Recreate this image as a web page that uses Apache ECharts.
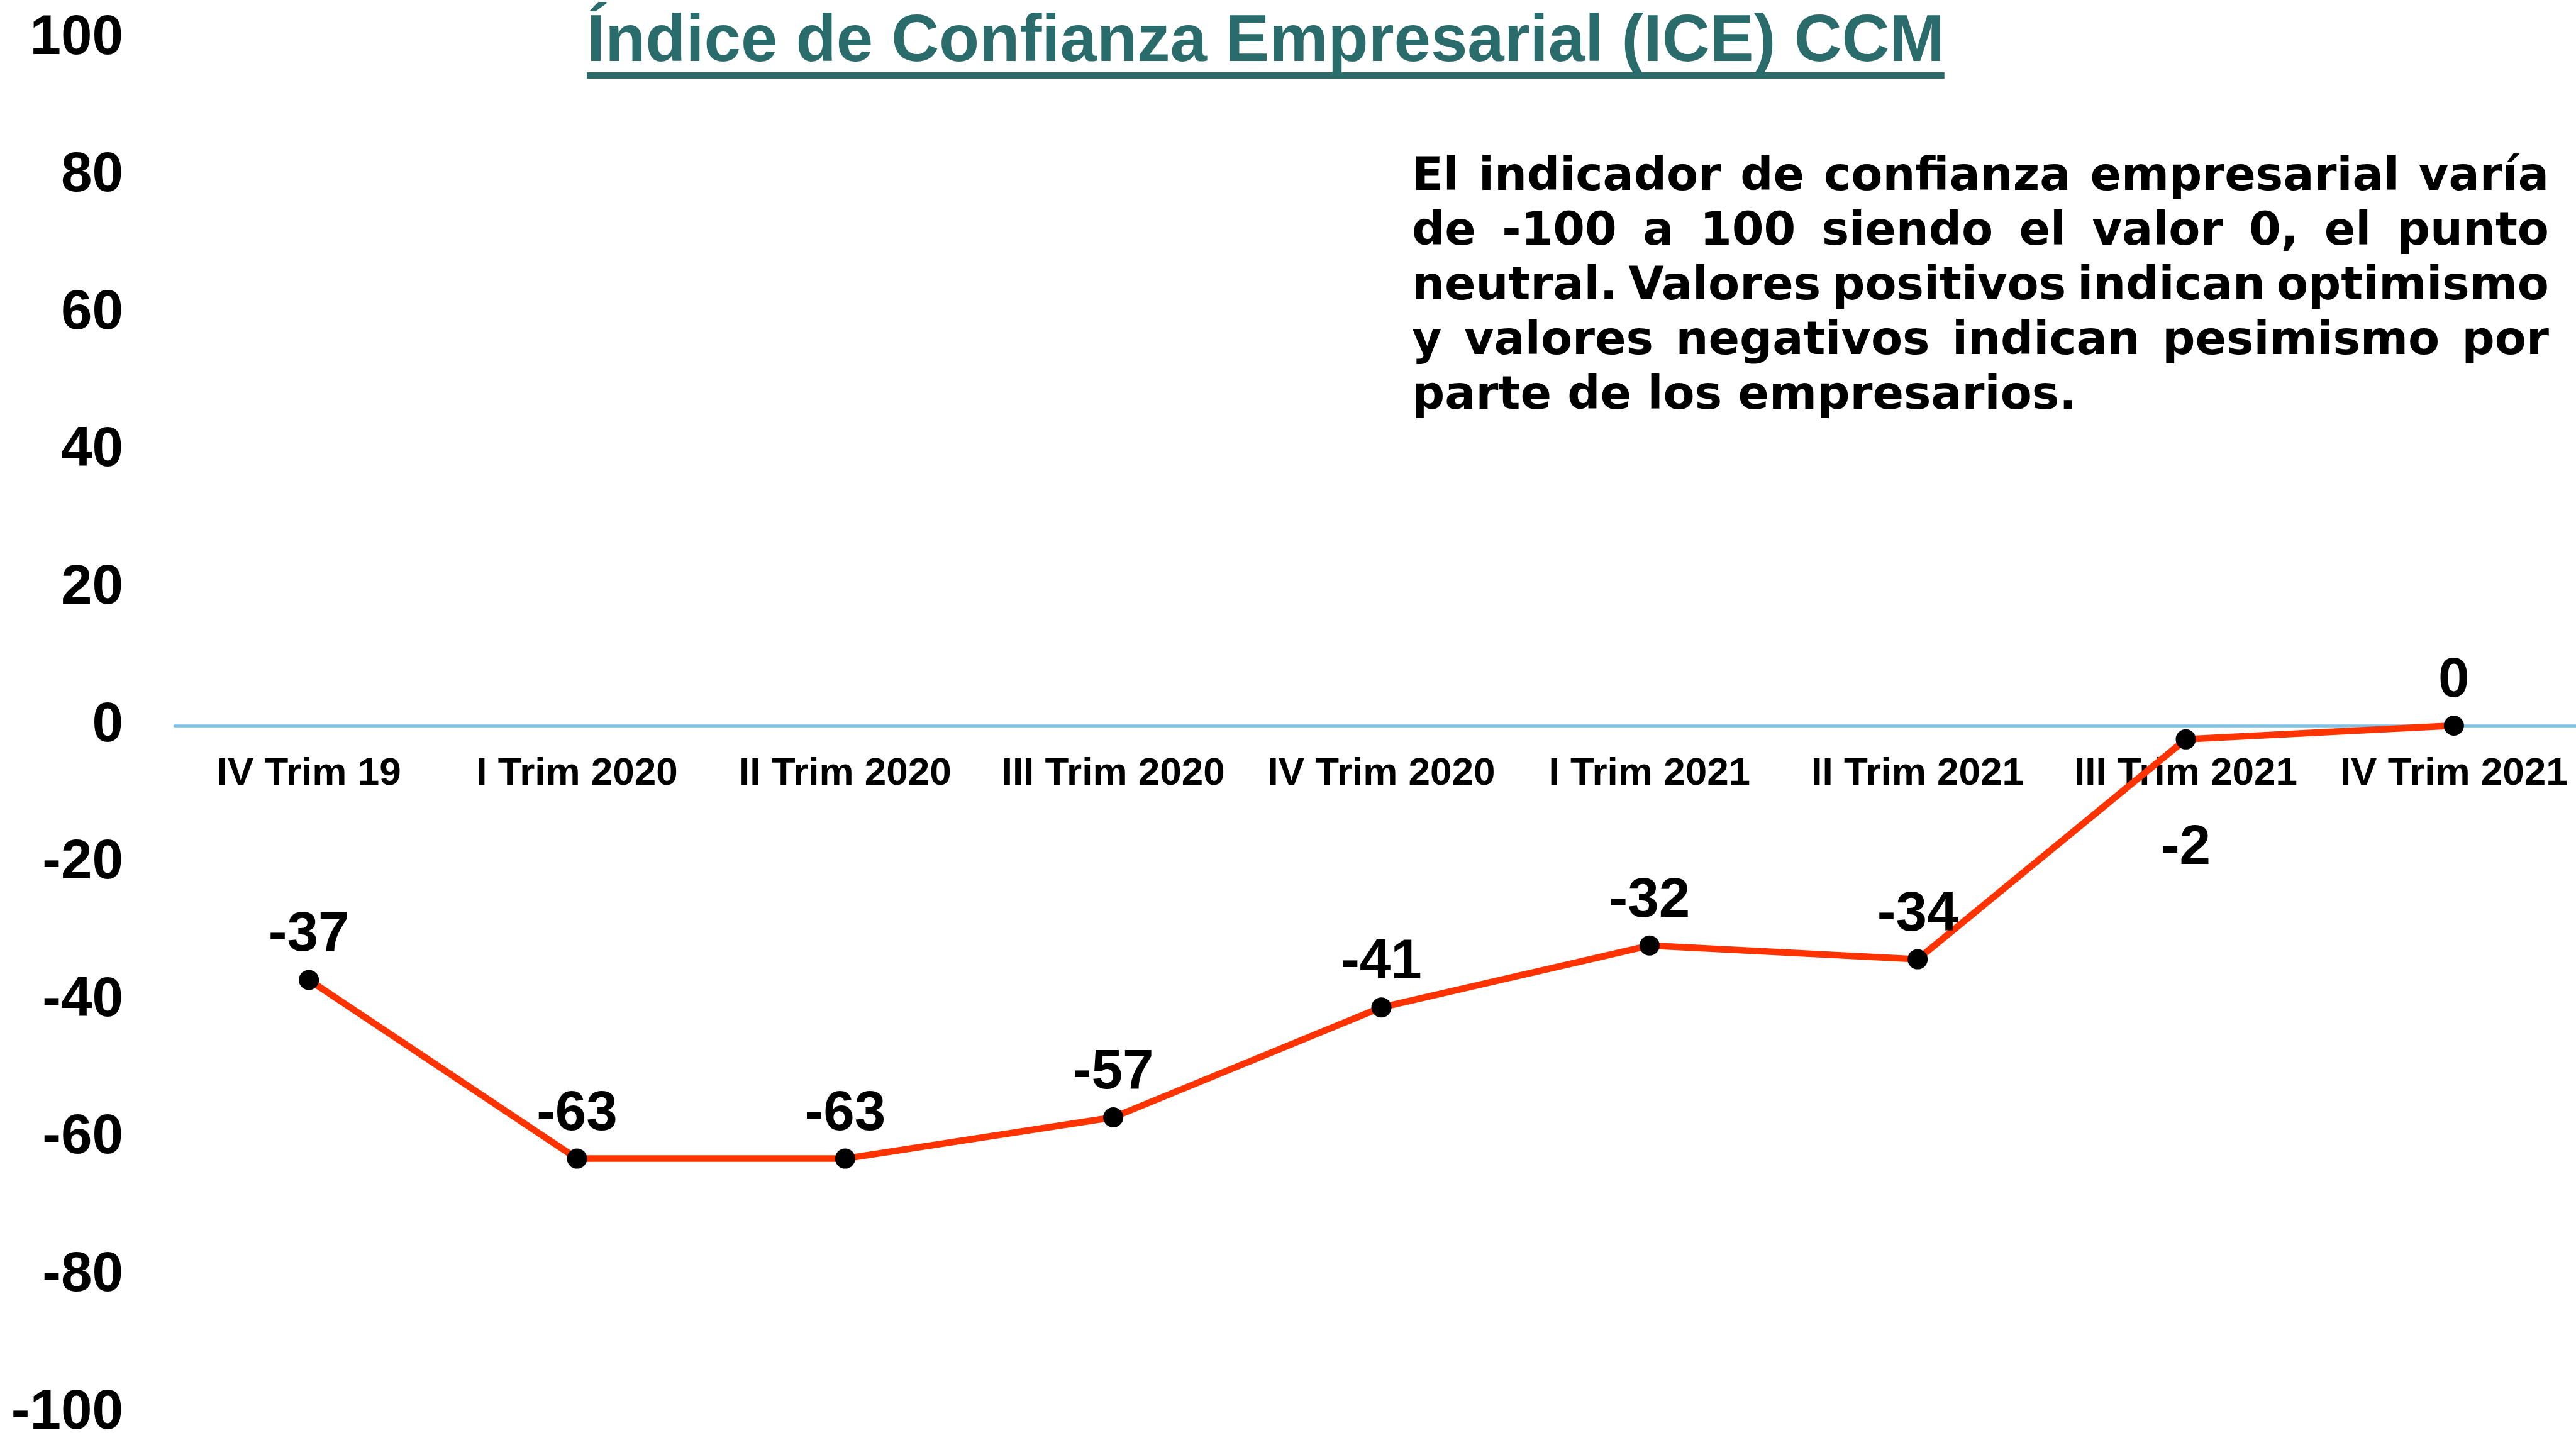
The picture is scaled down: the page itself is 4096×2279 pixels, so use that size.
<!DOCTYPE html>
<html>
<head>
<meta charset="utf-8">
<script src="https://cdn.jsdelivr.net/npm/echarts@6/dist/echarts.min.js"></script>
<style>
  html, body { margin: 0; padding: 0; background: #ffffff; overflow: hidden; }
  #chart { width: 4096px; height: 2279px; }
</style>
</head>
<body>
<div id="chart"></div>
<script>
// Quarters on the horizontal axis
const categories = [
  'IV Trim 19', 'I Trim 2020', 'II Trim 2020', 'III Trim 2020', 'IV Trim 2020',
  'I Trim 2021', 'II Trim 2021', 'III Trim 2021', 'IV Trim 2021'
];
// Business confidence index per quarter
const iceValues = [-37, -63, -63, -57, -41, -32, -34, -2, 0];
// Quarters whose value label sits under the marker instead of above it
const labelBelow = ['III Trim 2021'];
// Value axis range and step
const yMin = -100;
const yMax = 100;
const yStep = 20;

const titleText = 'Índice de Confianza Empresarial (ICE) CCM';
const noteLines = [
  'El indicador de confianza empresarial varía',
  'de -100 a 100 siendo el valor 0, el punto',
  'neutral. Valores positivos indican optimismo',
  'y valores negativos indican pesimismo por',
  'parte de los empresarios.'
];

const LABEL_FONT = '"Liberation Sans", Arial, Helvetica, sans-serif';
const NOTE_FONT = '"DejaVu Sans", Verdana, sans-serif';

const chart = echarts.init(document.getElementById('chart'), null, { renderer: 'canvas' });

// text measuring helper
const measureCtx = document.createElement('canvas').getContext('2d');
function textWidth(str, font) {
  measureCtx.font = font;
  return measureCtx.measureText(str).width;
}

// plot area
const gridTop = 61;
const gridBottom = 32;
const gridHeight = 2279 - gridTop - gridBottom;
// the category axis sits on the zero line of the value axis
const zeroOffset = -gridHeight * (0 - yMin) / (yMax - yMin);

// ---- title with underline ----
const titleSize = 105;
const titleLeft = 933;
const titleBaseline = 104;
const titleColor = '#2A6C6C';
const titleFont = `bold ${titleSize}px ${LABEL_FONT}`;
const titleWidth = textWidth(titleText, titleFont);

const graphics = [
  {
    type: 'text',
    x: titleLeft,
    y: titleBaseline - 0.347 * titleSize,
    style: {
      text: titleText,
      font: titleFont,
      fill: titleColor,
      align: 'left',
      verticalAlign: 'middle'
    }
  },
  {
    type: 'rect',
    shape: { x: titleLeft, y: 115, width: titleWidth, height: 10 },
    style: { fill: titleColor }
  }
];

// ---- justified explanatory note ----
const noteSize = 73;
const noteLead = 87;
const noteLeft = 2245;
const noteRight = 4053;
const noteFirstBaseline = 308;
const noteFont = `bold ${noteSize}px ${NOTE_FONT}`;

noteLines.forEach((line, i) => {
  const words = line.split(' ');
  const widths = words.map(w => textWidth(w, noteFont));
  const total = widths.reduce((a, b) => a + b, 0);
  const isLast = i === noteLines.length - 1;
  const gap = isLast || words.length < 2
    ? textWidth(' ', noteFont)
    : (noteRight - noteLeft - total) / (words.length - 1);
  const y = noteFirstBaseline + i * noteLead - 0.347 * noteSize;
  let x = noteLeft;
  words.forEach((w, j) => {
    graphics.push({
      type: 'text',
      x: x,
      y: y,
      style: { text: w, font: noteFont, fill: '#000000', align: 'left', verticalAlign: 'middle' }
    });
    x += widths[j] + gap;
  });
});

// ---- series data: some labels go below their marker ----
const seriesData = iceValues.map((v, i) =>
  labelBelow.includes(categories[i])
    ? { value: v, label: { position: 'bottom', distance: 113 } }
    : v
);

const option = {
  animation: false,
  backgroundColor: '#ffffff',
  grid: {
    left: 278, right: -19, top: gridTop, bottom: gridBottom,
    containLabel: false,
    outerBoundsMode: 'none'
  },
  xAxis: {
    type: 'category',
    data: categories,
    boundaryGap: true,
    position: 'bottom',
    offset: zeroOffset,
    axisLine: { show: true, onZero: false, lineStyle: { color: '#7DC1E7', width: 4.5 } },
    axisTick: { show: false },
    splitLine: { show: false },
    axisLabel: {
      interval: 0,
      margin: 46,
      color: '#000000',
      fontFamily: LABEL_FONT,
      fontWeight: 'bold',
      fontSize: 62
    }
  },
  yAxis: {
    type: 'value',
    min: yMin,
    max: yMax,
    interval: yStep,
    axisLine: { show: false },
    axisTick: { show: false },
    splitLine: { show: false },
    axisLabel: {
      margin: 82,
      color: '#000000',
      fontFamily: LABEL_FONT,
      fontWeight: 'bold',
      fontSize: 89
    }
  },
  series: [
    {
      type: 'line',
      data: seriesData,
      symbol: 'circle',
      symbolSize: 32,
      showAllSymbol: true,
      clip: false,
      z: 3,
      lineStyle: { color: '#FF3300', width: 10.5 },
      itemStyle: { color: '#000000' },
      label: {
        show: true,
        position: 'top',
        distance: 10,
        color: '#000000',
        fontFamily: LABEL_FONT,
        fontWeight: 'bold',
        fontSize: 89
      }
    }
  ],
  graphic: graphics
};

chart.setOption(option);
</script>
</body>
</html>
